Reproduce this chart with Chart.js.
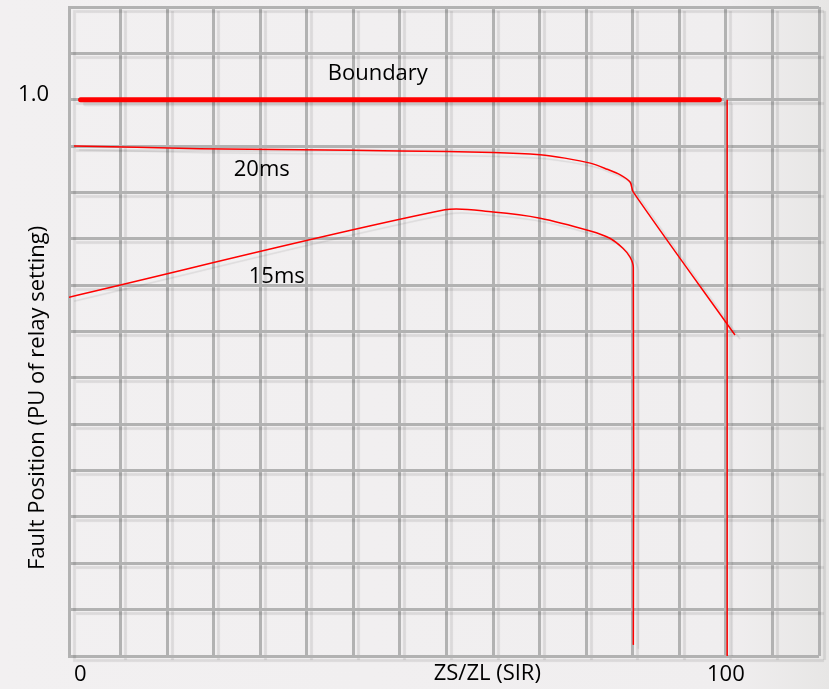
<!DOCTYPE html>
<html>
<head>
<meta charset="utf-8">
<script src="https://cdn.jsdelivr.net/npm/chart.js@4/dist/chart.umd.min.js"></script>
<style>
  html, body { margin: 0; padding: 0; }
  body { background: linear-gradient(to right, #f2f0f1 0%, #f0eeef 88%, #e7e6e5 100%); }
  #wrap { position: relative; width: 829px; height: 689px; }
</style>
</head>
<body>
<div id="wrap"><canvas id="relay-chart"></canvas></div>
<script>
(function() {
  'use strict';

  // ---- data (x in SIR, y in PU of relay setting) ----
  var BOUNDARY_X = [1.0, 99.0];
  var BOUNDARY_Y = [1.0, 1.0];

  var LIMIT_X = [100.2, 100.2];
  var LIMIT_Y = [1.0, 0];

  var T20_X = [0, 19.3, 34.7, 50.0, 64.3, 71.5, 75.3, 79.2, 81.8, 83.8, 85.3, 85.8, 101.4];
  var T20_Y = [0.917, 0.912, 0.910, 0.908, 0.905, 0.901, 0.895, 0.886, 0.875, 0.865, 0.852, 0.834, 0.577];

  var T15_X = [-0.77, 56.9, 64.3, 71.5, 79.2, 82.2, 84.2, 85.3, 85.8, 85.8];
  var T15_Y = [0.645, 0.802, 0.798, 0.787, 0.764, 0.751, 0.733, 0.717, 0.699, 0.020];

  // grid: 16 columns (14 of them = 100 SIR), 14 rows (12 of them = 1.0 PU)
  var X_MIN = -0.77;
  var X_STEP = 100 / 14;
  var X_COUNT = 16;
  var Y_STEP = 1 / 12;
  var Y_COUNT = 14;
  var X_TICK_TEXT = { 0: '0', 14: '100' };
  var Y_TICK_TEXT = { 12: '1.0' };

  var NOTE_TEXT = ['Boundary', '20ms', '15ms'];
  var NOTE_X = [46.6, 28.8, 31.1];
  var NOTE_Y = [1.035, 0.863, 0.6705];

  var X_TITLE = 'ZS/ZL (SIR)';
  var Y_TITLE = 'Fault Position (PU of relay setting)';

  var RED = '#ff0000';
  var GRID = '#b2b2b2';
  var TEXT = '#000000';
  var FONT_FAMILY = "'Open Sans', sans-serif";
  var FONT_SIZE = 22;

  function pts(xs, ys) {
    var out = [];
    for (var i = 0; i < xs.length; i++) out.push({ x: xs[i], y: ys[i] });
    return out;
  }

  // PowerPoint-like drop shadow on grid and lines
  var shadowPlugin = {
    id: 'dropShadow',
    beforeDraw: function(chart) {
      var c = chart.ctx;
      c.save();
      c.shadowColor = 'rgba(0,0,0,0.09)';
      c.shadowOffsetX = 5;
      c.shadowOffsetY = 4;
      c.shadowBlur = 1;
    },
    afterDatasetsDraw: function(chart) {
      chart.ctx.restore();
    }
  };

  var textPlugin = {
    id: 'freeText',
    afterDraw: function(chart) {
      var c = chart.ctx, sx = chart.scales.x, sy = chart.scales.y, a = chart.chartArea;
      c.save();
      c.font = FONT_SIZE + 'px ' + FONT_FAMILY;
      c.fillStyle = TEXT;
      c.textAlign = 'center';
      c.textBaseline = 'alphabetic';
      for (var i = 0; i < NOTE_TEXT.length; i++) {
        c.fillText(NOTE_TEXT[i], sx.getPixelForValue(NOTE_X[i]), sy.getPixelForValue(NOTE_Y[i]));
      }
      c.fillText(X_TITLE, sx.getPixelForValue(63.4), a.bottom + 24);
      c.translate(a.left - 25, sy.getPixelForValue(0.464));
      c.rotate(-Math.PI / 2);
      c.fillText(Y_TITLE, 0, 0);
      c.restore();
    }
  };

  function lineSet(label, data, width, tension) {
    return {
      label: label,
      data: data,
      borderColor: RED,
      borderWidth: width,
      pointRadius: 0,
      tension: tension,
      fill: false
    };
  }

  var boundary = lineSet('Boundary', pts(BOUNDARY_X, BOUNDARY_Y), 5, 0);
  boundary.borderCapStyle = 'round';

  new Chart(document.getElementById('relay-chart'), {
    type: 'line',
    data: {
      datasets: [
        boundary,
        lineSet('Limit', pts(LIMIT_X, LIMIT_Y), 1.5, 0),
        lineSet('20ms', pts(T20_X, T20_Y), 1.5, 0.3),
        lineSet('15ms', pts(T15_X, T15_Y), 1.5, 0.3)
      ]
    },
    options: {
      responsive: true,
      maintainAspectRatio: false,
      devicePixelRatio: 1,
      animation: false,
      layout: { padding: { top: 7, right: 10, left: 0, bottom: 0 } },
      plugins: {
        legend: { display: false },
        tooltip: { enabled: false }
      },
      scales: {
        x: {
          type: 'linear',
          min: X_MIN,
          max: X_STEP * X_COUNT,
          afterBuildTicks: function(s) {
            var t = [];
            for (var i = 0; i <= X_COUNT; i++) t.push({ value: i * X_STEP });
            s.ticks = t;
          },
          afterFit: function(s) {
            s.height = 33;
            s.paddingLeft = 0;
            s.paddingRight = 0;
          },
          grid: {
            color: function(ctx) { return ctx.index === 0 ? 'rgba(0,0,0,0)' : GRID; },
            lineWidth: 3,
            drawTicks: false
          },
          border: { display: false },
          ticks: {
            z: 1,
            autoSkip: false,
            maxRotation: 0,
            align: 'inner',
            padding: 6,
            color: TEXT,
            font: { family: FONT_FAMILY, size: FONT_SIZE },
            callback: function(v, i) { return X_TICK_TEXT[i] || ''; }
          }
        },
        y: {
          type: 'linear',
          min: 0,
          max: Y_STEP * Y_COUNT,
          afterBuildTicks: function(s) {
            var t = [];
            for (var i = 0; i <= Y_COUNT; i++) t.push({ value: i * Y_STEP });
            s.ticks = t;
          },
          afterFit: function(s) {
            s.width = 69;
            s.paddingTop = 0;
            s.paddingBottom = 0;
          },
          grid: {
            color: GRID,
            lineWidth: 3,
            drawTicks: false
          },
          border: { display: true, color: GRID, width: 3 },
          ticks: {
            z: 1,
            autoSkip: false,
            padding: 20,
            labelOffset: -5,
            color: TEXT,
            font: { family: FONT_FAMILY, size: FONT_SIZE },
            callback: function(v, i) { return Y_TICK_TEXT[i] || ''; }
          }
        }
      }
    },
    plugins: [shadowPlugin, textPlugin]
  });
})();
</script>
</body>
</html>
